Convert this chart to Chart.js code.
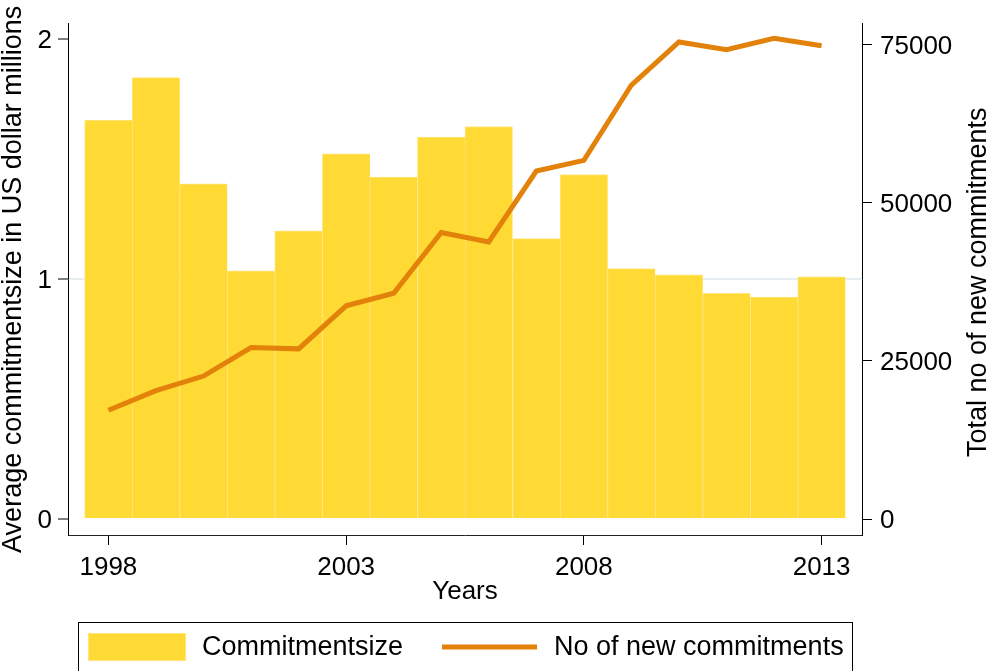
<!DOCTYPE html>
<html>
<head>
<meta charset="utf-8">
<script src="https://cdn.jsdelivr.net/npm/chart.js@4.4.1/dist/chart.umd.min.js"></script>
<style>
  html, body { margin: 0; padding: 0; background: #fff; }
  #wrap { width: 990px; height: 671px; }
</style>
</head>
<body>
<div id="wrap"><canvas id="c" width="990" height="671"></canvas></div>
<script>
// ---- data ----
const years = [1998, 1999, 2000, 2001, 2002, 2003, 2004, 2005, 2006, 2007, 2008, 2009, 2010, 2011, 2012, 2013];
const commitmentSize = [1.661, 1.837, 1.395, 1.033, 1.200, 1.520, 1.423, 1.590, 1.634, 1.167, 1.434, 1.043, 1.017, 0.939, 0.924, 1.008];
const newCommitments = [17200, 20300, 22600, 27100, 26900, 33700, 35700, 45300, 43800, 55000, 56700, 68600, 75400, 74200, 76000, 74800];
const xTickLabels = [1998, 2003, 2008, 2013];
const leftTickValues = [0, 1, 2];
const rightTickValues = [0, 25000, 50000, 75000];
const seriesNames = ['Commitmentsize', 'No of new commitments'];
const axisTitles = { x: 'Years', left: 'Average commitmentsize in US dollar millions', right: 'Total no of new commitments' };

const BAR_COLOR = '#FFD934';
const BAR_EDGE = '#FFE57E';
const LINE_COLOR = '#E3820A';
const FONT = '"Liberation Sans", Arial, Helvetica, sans-serif';

Chart.defaults.font.family = FONT;
Chart.defaults.color = '#000';

const extras = {
  id: 'stataExtras',
  afterDraw(chart) {
    const ctx = chart.ctx;
    const ca = chart.chartArea;
    ctx.save();
    // right-axis title, reading bottom-to-top
    ctx.font = '27px ' + FONT;
    ctx.fillStyle = '#000';
    ctx.textAlign = 'center';
    ctx.textBaseline = 'middle';
    ctx.translate(979, (ca.top + ca.bottom) / 2 + 3);
    ctx.rotate(-Math.PI / 2);
    ctx.fillText(axisTitles.right, 0, 0);
    ctx.restore();

    // legend with frame
    ctx.save();
    const ds = chart.data.datasets;
    ctx.font = '27px ' + FONT;
    const boxL = ca.left + 10, boxR = ca.right - 10, boxT = ca.bottom + 87;
    ctx.strokeStyle = '#000';
    ctx.lineWidth = 1;
    ctx.strokeRect(Math.round(boxL) + 0.5, Math.round(boxT) + 0.5, boxR - boxL, 80);
    const midY = boxT + 25;
    let x = boxL + 10;
    // bar swatch
    ctx.fillStyle = ds[0].backgroundColor;
    ctx.fillRect(x, midY - 14, 98, 28);
    ctx.strokeStyle = BAR_EDGE;
    ctx.strokeRect(x + 0.5, midY - 13.5, 97, 27);
    x += 98 + 16;
    ctx.fillStyle = '#000';
    ctx.textAlign = 'left';
    ctx.textBaseline = 'middle';
    ctx.fillText(ds[0].label, x, midY + 1);
    x += ctx.measureText(ds[0].label).width + 39;
    // line swatch
    ctx.strokeStyle = ds[1].borderColor;
    ctx.lineWidth = 5;
    ctx.beginPath();
    ctx.moveTo(x, midY);
    ctx.lineTo(x + 95, midY);
    ctx.stroke();
    x += 95 + 17;
    ctx.fillText(ds[1].label, x, midY + 1);
    ctx.restore();
  }
};

new Chart(document.getElementById('c'), {
  type: 'bar',
  data: {
    datasets: [
      {
        type: 'bar',
        label: seriesNames[0],
        data: years.map((y, i) => ({ x: y, y: commitmentSize[i] })),
        backgroundColor: BAR_COLOR,
        borderColor: BAR_EDGE,
        borderWidth: { top: 1, left: 1, right: 0, bottom: 0 },
        borderSkipped: false,
        barPercentage: 1,
        categoryPercentage: 1,
        xAxisID: 'x',
        yAxisID: 'yL',
        order: 2
      },
      {
        type: 'line',
        label: seriesNames[1],
        data: years.map((y, i) => ({ x: y, y: newCommitments[i] })),
        borderColor: LINE_COLOR,
        backgroundColor: LINE_COLOR,
        borderWidth: 5,
        pointRadius: 0,
        tension: 0,
        fill: false,
        xAxisID: 'x',
        yAxisID: 'yR',
        order: 1
      }
    ]
  },
  options: {
    responsive: false,
    animation: false,
    devicePixelRatio: 1,
    layout: { padding: { top: 22, bottom: 61, left: 0, right: 0 } },
    plugins: { legend: { display: false }, tooltip: { enabled: false } },
    scales: {
      x: {
        type: 'linear',
        position: 'bottom',
        min: 1997.15,
        max: 2013.85,
        offset: false,
        afterBuildTicks: s => { s.ticks = xTickLabels.map(v => ({ value: v })); },
        afterFit: s => { s.height = 75; },
        grid: { drawOnChartArea: false, offset: false, tickLength: 10, tickColor: '#000', color: '#000' },
        border: { display: true, color: '#222', width: 1 },
        ticks: { callback: v => String(v), font: { size: 26 }, color: '#000', padding: 7, maxRotation: 0, autoSkip: false },
        title: { display: true, text: axisTitles.x, font: { size: 26, lineHeight: 1 }, color: '#000', padding: { top: 0, bottom: 5 } }
      },
      yL: {
        type: 'linear',
        position: 'left',
        min: -0.0664,
        max: 2.0622,
        afterBuildTicks: s => { s.ticks = leftTickValues.map(v => ({ value: v })); },
        afterFit: s => { s.width = 68; },
        grid: {
          drawOnChartArea: true,
          color: c => (c.tick && c.tick.value === 1 ? '#E6EEF1' : 'rgba(0,0,0,0)'),
          lineWidth: 2,
          tickLength: 10,
          tickColor: '#000',
          tickWidth: 1
        },
        border: { display: true, color: '#000', width: 1 },
        ticks: { callback: v => String(v), font: { size: 26 }, color: '#000', padding: 6, labelOffset: 2 },
        title: { display: true, text: axisTitles.left, font: { size: 27, lineHeight: 1 }, color: '#000', padding: { top: 0, bottom: 0 } }
      },
      yR: {
        type: 'linear',
        position: 'right',
        min: -2521,
        max: 78309,
        afterBuildTicks: s => { s.ticks = rightTickValues.map(v => ({ value: v })); },
        afterFit: s => { s.width = 128; },
        grid: { drawOnChartArea: false, tickLength: 10, tickColor: '#000', color: '#000' },
        border: { display: true, color: '#000', width: 1 },
        ticks: { callback: v => String(v), font: { size: 26 }, color: '#000', padding: 8, labelOffset: 2 },
        title: { display: false }
      }
    }
  },
  plugins: [extras]
});
</script>
</body>
</html>
